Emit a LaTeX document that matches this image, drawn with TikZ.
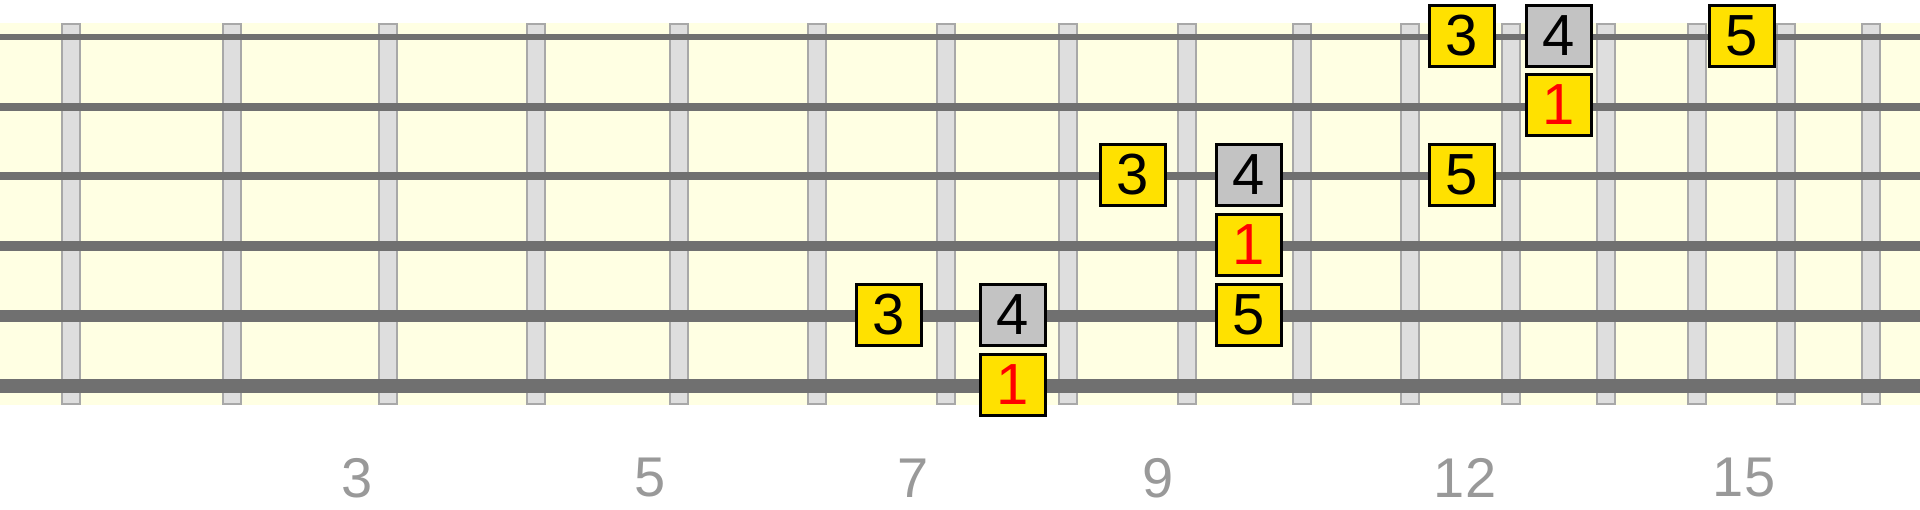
\documentclass[tikz,border=0pt]{standalone}
\usepackage{fontspec}
\setmainfont{Liberation Sans}
\usepackage{xcolor}
\usepackage{tikz}
\usetikzlibrary{positioning}
\definecolor{boardbg}{HTML}{FFFFE3}
\definecolor{fretfill}{HTML}{DEDEDE}
\definecolor{fretedge}{HTML}{A8A8A8}
\definecolor{stringgray}{HTML}{707070}
\definecolor{noteyellow}{HTML}{FFE100}
\definecolor{notegray}{HTML}{C3C3C3}
\definecolor{labelgray}{HTML}{999999}

\begin{document}
\begin{tikzpicture}[x=1pt, y=-1pt,
	fret_wire/.style={fill=fretfill, draw=fretedge, line width=2pt},
	string_line/.style={draw=stringgray},
	note_node/.style={rectangle, draw=black, line width=3pt, fill=noteyellow, minimum width=65pt, minimum height=61pt, inner sep=0pt, font=\fontsize{58}{58}\selectfont},
	root_node/.style={note_node, text=red},
	fourth_node/.style={note_node, fill=notegray},
	fret_label/.style={text=labelgray, inner sep=0pt, font=\fontsize{56}{56}\selectfont}]
				\useasboundingbox (0,0) rectangle (1920,510);
				\fill[boardbg] (0,23) rectangle (1920,405);
				
				% frets
				\draw[fret_wire] (62,24) rectangle (80,404);
				\draw[fret_wire] (223,24) rectangle (241,404);
				\draw[fret_wire] (379,24) rectangle (397,404);
				\draw[fret_wire] (527,24) rectangle (545,404);
				\draw[fret_wire] (670,24) rectangle (688,404);
				\draw[fret_wire] (808,24) rectangle (826,404);
				\draw[fret_wire] (937,24) rectangle (955,404);
				\draw[fret_wire] (1059,24) rectangle (1077,404);
				\draw[fret_wire] (1178,24) rectangle (1196,404);
				\draw[fret_wire] (1293,24) rectangle (1311,404);
				\draw[fret_wire] (1401,24) rectangle (1419,404);
				\draw[fret_wire] (1502,24) rectangle (1520,404);
				\draw[fret_wire] (1597,24) rectangle (1615,404);
				\draw[fret_wire] (1688,24) rectangle (1706,404);
				\draw[fret_wire] (1777,24) rectangle (1795,404);
				\draw[fret_wire] (1862,24) rectangle (1880,404);
				
				% strings
				\draw[string_line, line width=6.5pt] (0,37) -- (1920,37);
				\draw[string_line, line width=7.5pt] (0,107) -- (1920,107);
				\draw[string_line, line width=8.5pt] (0,176) -- (1920,176);
				\draw[string_line, line width=10pt] (0,246) -- (1920,246);
				\draw[string_line, line width=12pt] (0,316) -- (1920,316);
				\draw[string_line, line width=13.5pt] (0,386) -- (1920,386);
				
				% notes
				\node[note_node] (s1_3) at (1462, 36) {3};
				\node[fourth_node] (s1_4) at (1559, 36) {4};
				\node[note_node] (s1_5) at (1742, 36) {5};
				\node[root_node] (s2_1) at (1559, 105) {1};
				\node[note_node] (s3_3) at (1133, 175) {3};
				\node[fourth_node] (s3_4) at (1249, 175) {4};
				\node[note_node] (s3_5) at (1462, 175) {5};
				\node[root_node] (s4_1) at (1249, 245) {1};
				\node[note_node] (s5_3) at (889, 315) {3};
				\node[fourth_node] (s5_4) at (1013, 315) {4};
				\node[note_node] (s5_5) at (1249, 315) {5};
				\node[root_node] (s6_1) at (1013, 385) {1};
				
				% fret numbers
				\node[fret_label] (f3) at (357, 478) {3};
				\node[fret_label] (f5) at (650, 478) {5};
				\node[fret_label] (f7) at (913, 478) {7};
				\node[fret_label] (f9) at (1158, 478) {9};
				\node[fret_label] (f12) at (1465, 478) {12};
				\node[fret_label] (f15) at (1744, 478) {15};
			\end{tikzpicture}
\end{document}
